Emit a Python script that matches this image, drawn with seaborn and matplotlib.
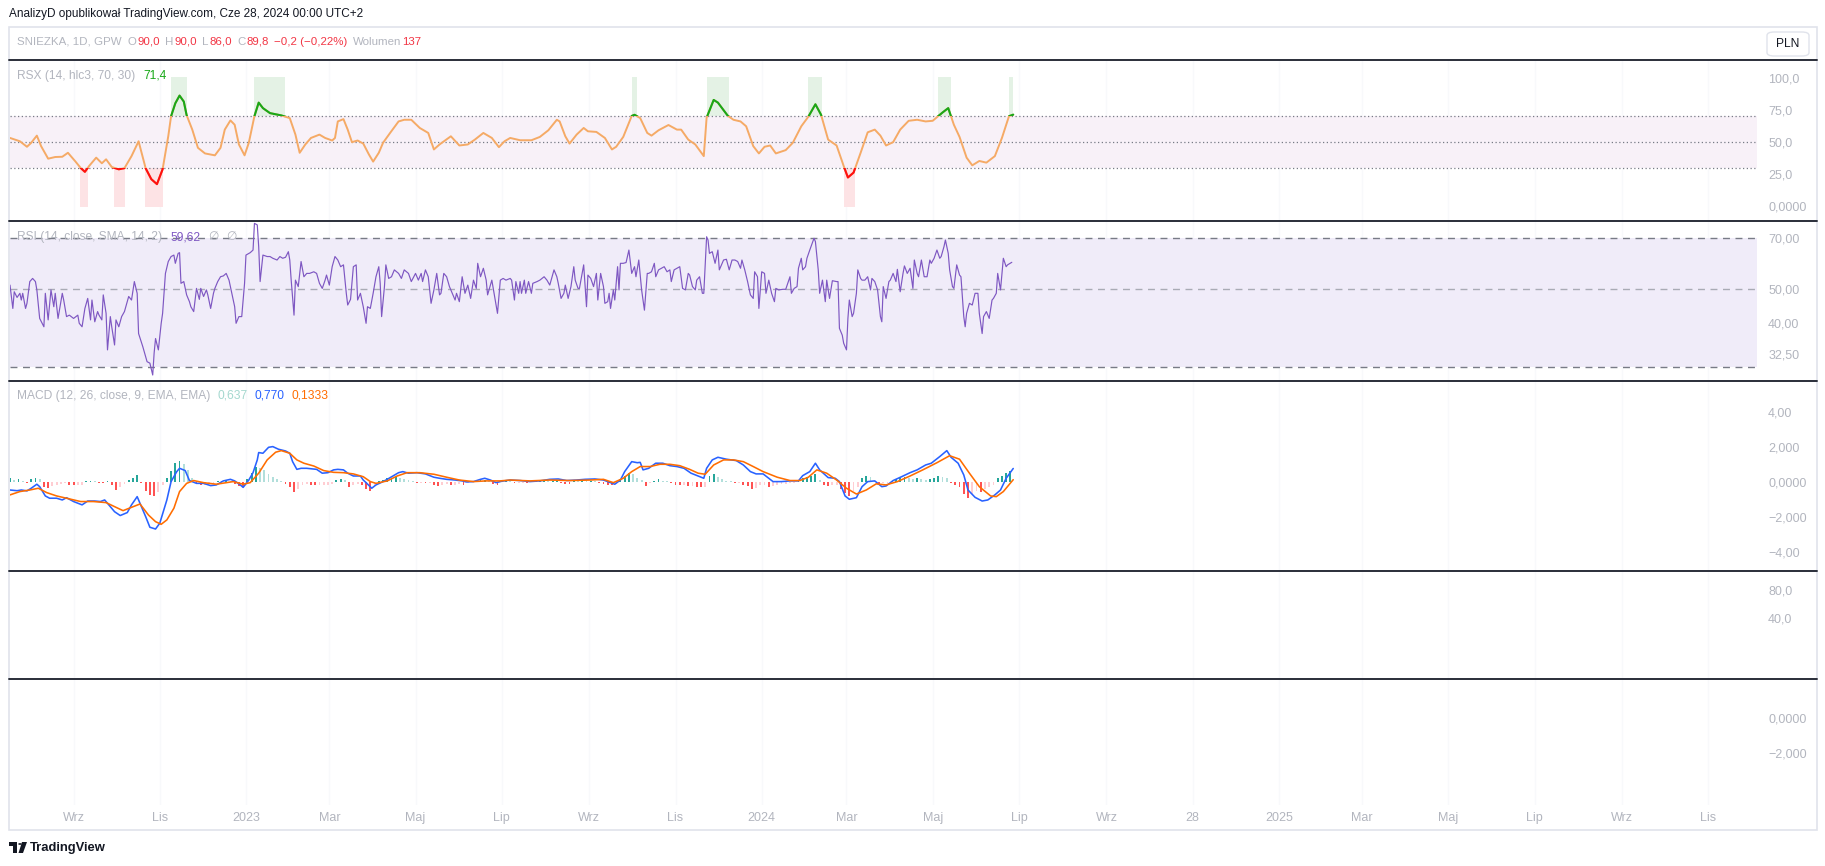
import numpy as np
import pandas as pd
import matplotlib
matplotlib.use("Agg")
import matplotlib.pyplot as plt
import seaborn as sns
from matplotlib.lines import Line2D
from matplotlib.patches import Rectangle, FancyBboxPatch, Circle, Polygon
from matplotlib.ticker import NullLocator, NullFormatter
from matplotlib import font_manager

sns.set_theme(style="white")
avail = {f.name for f in font_manager.fontManager.ttflist}
BASE = "Liberation Sans" if "Liberation Sans" in avail else "DejaVu Sans"
plt.rcParams["font.family"] = [BASE, "DejaVu Sans"]

# ---------------- data (day offsets from START) ----------------
START = pd.Timestamp("2022-07-18")

rsx_day = [0, 7, 12, 15, 19, 22, 27, 32, 37, 41, 46, 50, 53, 56, 61, 65, 68, 72, 77, 81,
           86, 91, 96, 100, 104, 108, 112, 114, 117, 120, 123, 125, 129, 133, 138, 145, 149, 152, 156, 159,
           162, 166, 169, 173, 176, 179, 184, 192, 198, 202, 205, 209, 213, 219, 223, 228, 230, 232, 236, 239,
           242, 246, 250, 254, 257, 261, 264, 269, 275, 279, 284, 290, 296, 300, 304, 312, 318, 324, 329, 335,
           341, 346, 350,
           354, 361, 369, 375, 381, 387, 389, 393, 396, 401, 406, 409, 415, 421, 426, 429, 434, 440, 442, 446,
           451, 454, 459, 466, 472, 475, 480, 485, 491, 493, 498, 501, 508, 512, 517, 521, 526, 530, 534, 538,
           542, 549, 554, 560, 565, 570, 574, 579, 585, 590, 593, 597, 602, 607, 612, 616, 620, 625, 630, 636,
           642, 648, 653, 657, 660, 664, 668, 672, 677, 681, 686, 691, 697, 702, 707, 710]
rsx_val = [53.2, 50.6, 46.3, 49.4, 55.0, 46.8, 37.0, 38.3, 38.5, 41.6, 35.2, 29.8, 26.7, 31.3, 37.8, 33.4, 36.5, 30.5, 28.7, 29.6,
           39.0, 50.6, 29.5, 21.0, 17.1, 28.7, 54.5, 70.2, 80.3, 86.3, 81.6, 71.0, 59.7, 45.5, 41.1, 39.6, 45.5, 59.7, 66.9, 63.5,
           48.1, 39.6, 49.4, 70.3, 80.8, 76.5, 72.6, 70.8, 68.7, 55.8, 41.6, 48.1, 53.2, 55.8, 53.2, 51.2, 53.2, 66.1, 67.9, 59.7,
           49.9, 51.2, 48.8, 40.3, 34.7, 41.6, 49.4, 57.1, 66.1, 67.4, 67.4, 61.0, 57.1, 44.2, 48.1, 54.5, 47.3, 48.1, 51.9, 57.1,
           53.2, 46.0, 50.6,
           53.2, 51.4, 51.4, 54.0, 59.2, 67.4, 66.1, 54.5, 48.8, 55.8, 61.0, 58.4, 57.9, 53.2, 44.2, 46.3, 54.0, 70.4, 71.3, 68.7,
           57.1, 55.0, 59.2, 63.3, 59.7, 59.7, 51.9, 48.1, 39.0, 69.0, 82.9, 80.8, 70.5, 67.4, 66.1, 62.3, 46.8, 41.1, 46.3, 47.3,
           41.1, 43.7, 49.4, 62.3, 69.8, 79.5, 71.3, 51.9, 47.3, 31.3, 22.3, 26.1, 41.6, 57.6, 59.7, 55.0, 47.3, 49.9, 59.7, 66.6,
           67.4, 66.1, 66.6, 70.3, 73.1, 76.5, 63.5, 54.0, 37.8, 31.8, 35.2, 33.9, 39.0, 53.2, 70.2, 71.4]

rsi_day = [0, 2, 3, 5, 7, 8, 9, 11, 12, 14,
           16, 18, 19, 21, 24, 25, 27, 29, 31, 32,
           34, 37, 38, 40, 42, 45, 48, 49, 51, 53,
           55, 57, 58, 60, 62, 63, 65, 66, 68, 69,
           71, 72, 74, 75, 77, 79, 81, 84, 86, 88,
           90, 91, 94, 97, 99, 101, 102, 103, 105, 107,
           108, 110, 112, 114, 116, 117, 119, 120, 121, 123,
           125, 127, 128, 130, 132, 134, 135, 137, 139, 140,
           142, 144, 145, 147, 149, 151, 153, 155, 157, 159,
           160, 162, 164, 166, 167, 170, 172, 173, 175, 176,
           177, 179, 182, 184, 186, 189, 191, 193, 195, 197,
           198, 199, 201, 202, 204, 206, 208, 210, 212, 215,
           217, 219, 221, 223, 224, 226, 228, 230, 232, 234,
           236, 238, 239, 241, 243, 245, 246, 248, 250, 252,
           253, 255, 257, 259, 261, 262, 263, 265, 266, 268,
           270, 272, 275, 277, 279, 282, 284, 287, 289, 291,
           292, 294, 296, 298, 300, 302, 304, 305, 307, 309,
           311, 312, 315, 316, 318, 320, 322, 324, 326, 328,
           330, 331, 333, 335, 337, 338, 341, 343, 345, 347,
           349, 351,
           354, 355, 357, 358, 360, 361, 362, 364, 365, 367,
           369, 370, 373, 375, 378, 380, 382, 385, 387, 388,
           390, 392, 393, 395, 397, 399, 400, 402, 403, 406,
           408, 409, 411, 413, 415, 416, 418, 420, 421, 423,
           424, 425, 427, 428, 430, 431, 432, 434, 436, 438,
           440, 442, 443, 445, 447, 449, 451, 452, 454, 456,
           457, 459, 461, 463, 465, 467, 468, 470, 472, 474,
           476, 478, 480, 481, 483, 485, 486, 488, 490, 491,
           493, 494, 495, 497, 499, 501, 502, 505, 507, 509,
           511, 513, 515, 517, 518, 520, 522, 524, 526, 527,
           529, 530, 532, 534, 535, 537, 539, 541, 542, 544,
           547, 549, 552, 553, 555, 557, 558, 560, 561, 563,
           564, 566, 569, 570, 572, 573, 575, 577, 578, 580,
           582, 585, 586, 587, 589, 590, 592, 593, 594, 596,
           597, 599, 600, 602, 603, 605, 607, 609, 610, 612,
           614, 616, 617, 618, 620, 622, 623, 625, 627, 628,
           630, 632, 633, 635, 637, 639, 640, 642, 643, 645,
           647, 649, 651, 652, 654, 656, 658, 659, 661, 662,
           664, 665, 667, 668, 670, 672, 673, 675, 676, 677,
           679, 681, 683, 685, 686, 688, 689, 691, 693, 695,
           696, 698, 699, 701, 703, 705, 706, 709]
rsi_val = [51.3, 44.0, 49.1, 47.3, 48.6, 46.5, 48.6, 44.0, 45.5, 52.5,
           53.6, 52.5, 49.7, 41.2, 39.0, 48.6, 40.8, 49.7, 44.5, 48.6,
           41.2, 48.6, 46.5, 41.7, 42.1, 41.2, 42.1, 39.9, 39.0, 44.0,
           47.0, 40.8, 46.5, 40.3, 43.1, 42.1, 40.8, 48.1, 42.6, 33.5,
           41.7, 39.0, 34.6, 40.8, 39.0, 41.7, 43.1, 47.6, 46.5, 52.5,
           48.6, 37.3, 34.2, 31.0, 30.7, 28.4, 32.8, 36.1, 33.5, 39.9,
           42.6, 55.4, 59.9, 61.9, 62.5, 59.2, 63.2, 63.5, 51.9, 52.5,
           48.1, 46.0, 44.5, 43.1, 50.2, 46.7, 50.2, 47.6, 49.7, 48.1,
           44.0, 48.6, 50.2, 52.5, 54.2, 54.5, 55.4, 53.0, 48.6, 44.5,
           39.9, 41.7, 41.7, 51.9, 62.5, 63.5, 64.6, 77.0, 76.2, 66.1,
           52.5, 62.5, 61.9, 61.9, 61.2, 60.5, 61.9, 61.2, 61.6, 63.9,
           60.5, 53.0, 42.1, 53.0, 50.8, 59.9, 54.2, 55.4, 55.4, 56.0,
           55.4, 51.9, 50.2, 53.0, 54.8, 51.3, 57.9, 61.9, 60.5, 57.9,
           58.6, 48.6, 45.0, 46.7, 57.9, 58.6, 46.5, 48.6, 44.5, 39.9,
           44.5, 44.0, 48.6, 54.2, 57.9, 51.9, 41.7, 50.8, 58.6, 53.6,
           54.2, 56.7, 55.4, 53.6, 56.7, 55.4, 52.5, 55.4, 53.0, 55.4,
           52.5, 56.7, 54.2, 45.5, 49.7, 55.4, 48.1, 48.6, 55.4, 54.2,
           50.8, 49.7, 46.5, 48.6, 46.0, 54.2, 48.6, 51.3, 47.0, 53.0,
           50.2, 59.2, 54.2, 57.3, 53.0, 48.1, 53.0, 47.6, 42.6, 53.0,
           53.6, 53.0,
           53.6, 53.0, 46.5, 52.5, 48.6, 52.5, 48.6, 53.0, 48.6, 52.5,
           48.6, 51.9, 52.5, 53.0, 54.2, 53.0, 51.3, 56.7, 54.2, 51.9,
           47.0, 48.6, 51.3, 47.0, 50.8, 57.9, 53.0, 50.2, 50.2, 58.6,
           44.5, 54.8, 53.6, 50.8, 55.4, 46.5, 55.4, 50.8, 45.5, 46.0,
           48.6, 44.0, 49.7, 46.5, 57.9, 49.7, 59.2, 59.2, 59.5, 64.6,
           55.4, 57.9, 54.2, 60.5, 49.7, 43.5, 55.4, 55.4, 56.0, 59.2,
           54.2, 56.7, 57.3, 57.9, 56.0, 56.7, 52.5, 56.7, 57.3, 57.9,
           50.2, 49.7, 55.4, 54.8, 50.8, 49.7, 53.0, 54.2, 48.6, 48.6,
           70.5, 69.0, 63.2, 63.9, 59.2, 64.6, 56.7, 60.5, 60.8, 56.7,
           60.5, 60.5, 59.9, 57.3, 60.5, 56.7, 52.5, 48.1, 47.0, 56.0,
           54.2, 44.0, 56.0, 55.4, 48.6, 53.0, 48.6, 46.0, 50.2, 49.7,
           49.9, 49.9, 54.2, 48.6, 50.2, 50.8, 57.3, 61.2, 56.7, 57.9,
           61.2, 64.6, 69.8, 68.3, 56.7, 48.6, 53.0, 46.0, 53.0, 47.0,
           52.8, 52.5, 52.5, 38.6, 36.9, 35.0, 33.5, 41.2, 46.5, 41.7,
           42.6, 48.6, 56.7, 53.6, 53.0, 53.0, 54.2, 49.7, 53.6, 52.5,
           49.7, 41.7, 40.3, 50.8, 47.0, 52.5, 53.0, 55.4, 52.5, 56.9,
           49.1, 55.4, 58.2, 55.4, 57.3, 50.2, 60.5, 55.4, 54.2, 60.5,
           54.2, 54.2, 60.5, 59.2, 61.2, 64.6, 61.2, 61.9, 66.1, 69.0,
           63.2, 56.7, 50.8, 50.2, 58.6, 54.8, 54.2, 41.7, 39.0, 42.6,
           45.5, 45.0, 48.6, 48.6, 42.6, 37.3, 41.7, 43.1, 41.2, 46.5,
           47.0, 48.6, 55.4, 49.7, 61.2, 57.9, 58.6, 59.6]

macd_day = [0, 5, 8, 12, 15, 19, 21, 25, 28, 33, 37, 40, 45, 51, 55, 60, 64, 67, 71, 74,
            78, 83, 86, 90, 92, 96, 99, 103, 106, 111, 114, 118, 120, 124, 127, 132, 137, 142, 146, 151,
            156, 159, 163, 165, 169, 172, 175, 176, 179, 183, 186, 190, 195, 198, 200, 203, 206, 210, 217, 221,
            225, 229, 232, 236, 239, 243, 248, 250, 252, 256, 259, 263, 267, 271, 275, 278, 282, 288, 294, 300,
            304, 309, 315, 320, 323, 328, 333, 336, 340, 344, 348,
            354, 361, 368, 375, 382, 388, 394, 401, 407, 414, 420, 425, 428, 432, 435, 440, 444, 446, 448, 452,
            457, 462, 467, 472, 477, 482, 487, 491, 493, 497, 501, 507, 514, 519, 524, 528, 533, 540, 546, 552,
            558, 561, 566, 570, 573, 579, 584, 587, 591, 594, 599, 603, 607, 612, 617, 620, 625, 631, 637, 642,
            648, 652, 658, 663, 666, 671, 675, 678, 683, 688, 692, 697, 701, 705, 710]
macd_val = [-0.46, -0.50, -0.46, -0.51, -0.36, -0.13, -0.27, -0.80, -0.93, -0.93, -1.03, -0.90, -1.12, -1.31, -1.09, -1.09, -1.12, -1.03, -1.41, -1.70,
            -1.92, -1.75, -1.31, -0.84, -1.22, -1.98, -2.59, -2.69, -2.36, -1.03, 0.02, 0.59, 0.78, 0.65, 0.08, -0.08, -0.08, -0.21, -0.17, 0.06,
            0.15, 0.06, -0.17, -0.31, 0.11, 0.53, 1.26, 1.68, 1.64, 1.98, 2.02, 1.87, 1.77, 1.64, 1.16, 0.72, 0.78, 0.78, 0.72, 0.50,
            0.53, 0.69, 0.72, 0.69, 0.50, 0.34, 0.34, 0.11, -0.04, -0.36, -0.17, -0.02, 0.15, 0.34, 0.53, 0.59, 0.50, 0.53, 0.46, 0.27,
            0.21, 0.15, 0.11, 0.06, 0.00, 0.02, 0.15, 0.21, 0.11, -0.04, 0.04,
            0.11, 0.08, 0.02, 0.06, 0.15, 0.17, 0.08, 0.11, 0.15, 0.17, 0.11, -0.04, -0.13, 0.11, 0.59, 1.16, 1.10, 1.12, 0.69, 0.78,
            1.07, 1.07, 0.93, 0.88, 0.78, 0.50, 0.34, 0.21, 0.78, 1.26, 1.41, 1.30, 1.22, 0.97, 0.59, 0.46, 0.46, 0.02, 0.02, 0.06,
            0.06, 0.36, 0.59, 1.07, 0.69, 0.25, 0.21, 0.02, -0.80, -0.99, -0.90, -0.27, 0.02, 0.06, -0.27, -0.23, 0.08, 0.30, 0.53, 0.69,
            0.97, 1.07, 1.45, 1.79, 1.41, 1.07, 0.40, -0.46, -0.88, -1.09, -1.03, -0.74, -0.46, 0.21, 0.77]

signal_day = [0, 7, 14, 20, 26, 33, 40, 50, 59, 68, 75, 80, 86, 92, 98, 103, 107, 111, 116, 120,
              125, 130, 137, 146, 158, 165, 170, 176, 182, 188, 192, 198, 203, 208, 215, 222, 229, 236, 243, 250,
              255, 259, 267, 274, 281, 290, 300, 309, 318, 328, 337, 347,
              354, 368, 382, 396, 411, 420, 427, 434, 440, 446, 453, 460, 467, 474, 481, 487, 492, 498, 505, 512,
              519, 526, 533, 543, 552, 559, 565, 571, 578, 585, 592, 599, 606, 613, 620, 628, 637, 646, 656, 665,
              672, 679, 686, 694, 698, 703, 710]
signal_val = [-0.74, -0.55, -0.46, -0.36, -0.61, -0.80, -0.93, -1.12, -1.12, -1.18, -1.45, -1.64, -1.45, -1.26, -1.89, -2.27, -2.42, -2.17, -1.50, -0.55,
              -0.08, 0.08, -0.04, -0.13, 0.02, -0.13, -0.04, 0.50, 1.26, 1.70, 1.79, 1.64, 1.26, 1.07, 0.91, 0.65, 0.55, 0.53, 0.46, 0.30,
              0.02, -0.08, 0.06, 0.34, 0.53, 0.53, 0.44, 0.27, 0.11, 0.02, 0.06, 0.06,
              0.11, 0.06, 0.11, 0.08, 0.11, 0.15, -0.04, 0.21, 0.59, 0.88, 0.88, 1.01, 1.01, 0.93, 0.72, 0.50, 0.44, 0.97, 1.26, 1.26,
              1.16, 0.88, 0.59, 0.27, 0.08, 0.08, 0.27, 0.69, 0.50, 0.11, -0.36, -0.69, -0.46, -0.11, -0.17, 0.02, 0.34, 0.69, 1.10, 1.50,
              1.30, 0.50, -0.27, -0.80, -0.84, -0.55, 0.13]

HIST_STEP = 3  # one bar every 3 days
hist_val = [0.20, 0.10, 0.15, 0.05, -0.08, 0.15, 0.20, 0.18,
            -0.30, -0.36, -0.25, -0.15, -0.10, -0.08, -0.18, -0.20, -0.15, -0.15,
            0.06, 0.08, 0.05, -0.05, -0.08, 0.05,
            -0.20, -0.45, -0.30, -0.10, 0.10, 0.25, 0.40,
            -0.05, -0.50, -0.75, -0.80, -0.60, -0.20,
            0.20, 0.60, 1.10, 1.20, 1.00, 0.70, 0.25,
            -0.10, -0.20, -0.15, -0.08, -0.05, 0.05, 0.05, 0.10, 0.05,
            -0.10, -0.25, -0.30,
            0.15, 0.50, 0.85, 0.80, 0.70, 0.45, 0.30, 0.15, 0.05,
            -0.10, -0.30, -0.60, -0.40, -0.20, -0.10, -0.15, -0.20, -0.20, -0.15, -0.15, -0.10,
            0.10, 0.15, 0.10,
            -0.30, -0.15, -0.10, -0.15, -0.40, -0.50, -0.20,
            0.05, 0.10, 0.20, 0.25, 0.30, 0.20, 0.15, 0.10, 0.05,
            -0.05, -0.05, -0.08, -0.05, -0.20, -0.25, -0.15, -0.10, -0.20, -0.20, -0.10, -0.15, -0.05,
            0.03, 0.05, 0.10, 0.12, 0.08, -0.10, -0.20, 0.05, 0.10,
            0.05, -0.08, -0.08, -0.05, -0.08,
            0.03, 0.05, 0.05, 0.06, 0.04, 0.05, 0.06,
            -0.05, -0.10, -0.12,
            0.05, 0.04, 0.05, 0.04, 0.05, 0.03,
            -0.08, -0.10, -0.15, -0.20, -0.10,
            0.15, 0.35, 0.50, 0.45, 0.25, 0.10,
            -0.25, -0.05,
            0.08, 0.15, 0.08, 0.05,
            -0.05, -0.15, -0.20, -0.20, -0.25, -0.25, -0.28, -0.30, -0.30,
            0.35, 0.45, 0.30, 0.15, 0.05, 0.03,
            -0.05, -0.05, -0.15, -0.25, -0.40, -0.35, -0.20, -0.20, -0.30, -0.25, -0.15, -0.12, -0.10, -0.08, -0.05,
            0.05, 0.20, 0.30, 0.35, 0.45, 0.10,
            -0.15, -0.25, -0.20, -0.15, -0.40, -0.65, -0.80, -0.50, -0.30,
            0.20, 0.35, 0.30, 0.05,
            -0.10, -0.08, -0.05,
            0.05, 0.15, 0.20, 0.30, 0.25, 0.15, 0.20, 0.15, 0.10, 0.15, 0.25, 0.35, 0.30, 0.20,
            -0.05, -0.15, -0.30, -0.70, -0.90, -0.70, -0.50, -0.60, -0.40, -0.30, -0.15,
            0.25, 0.35, 0.50, 0.64]

tick_dates = ["2022-09-01", "2022-11-01", "2023-01-01", "2023-03-01", "2023-05-01", "2023-07-01",
              "2023-09-01", "2023-11-01", "2024-01-01", "2024-03-01", "2024-05-01", "2024-07-01",
              "2024-09-01", "2024-11-01", "2025-01-01", "2025-03-01", "2025-05-01", "2025-07-01",
              "2025-09-01", "2025-11-01"]
tick_labels = ["Wrz", "Lis", "2023", "Mar", "Maj", "Lip", "Wrz", "Lis", "2024", "Mar", "Maj", "Lip",
               "Wrz", "28", "2025", "Mar", "Maj", "Lip", "Wrz", "Lis"]

rsx_ticks = [100, 75, 50, 25, 0]
rsx_tick_labels = ["100,0", "75,0", "50,0", "25,0", "0,0000"]
rsi_ticks = [70, 50, 40, 32.5]
rsi_tick_labels = ["70,00", "50,00", "40,00", "32,50"]
macd_ticks = [4, 2, 0, -2, -4]
macd_tick_labels = ["4,00", "2,000", "0,0000", "\u22122,000", "\u22124,00"]
p5_ticks = [80, 40]
p5_tick_labels = ["80,0", "40,0"]
p6_ticks = [0, -2]
p6_tick_labels = ["0,0000", "\u22122,000"]

# ---------------- style ----------------
W, H = 1825, 866
def fpt(px):
    return px * 0.72

GRAY_TXT = "#b2b5be"
DARK = "#131722"
RED_TXT = "#f23645"
RSX_ORANGE = "#f5aa66"
RSX_GREEN = "#18a818"
RSX_RED = "#ff1010"
GREEN_SPAN = "#e4f2e5"
RED_SPAN = "#fde3e5"
RSX_BAND = "#f8f1f8"
RSI_BAND = "#f0ecf9"
RSI_LINE = "#7e57c2"
MACD_BLUE = "#2962ff"
SIG_ORANGE = "#ff6d00"
SEP = "#2a2e39"
GRID = "#f8f9fb"

fig = plt.figure(figsize=(W / 100, H / 100), dpi=100, facecolor="white")

X0, X1 = 10, 1757
PX_PER_DAY = 1.413
XMAX = (X1 - X0) / PX_PER_DAY
tick_pos = [(pd.Timestamp(d) - START).days for d in tick_dates]

def pane(y0, y1):
    ax = fig.add_axes([X0 / W, 1 - y1 / H, (X1 - X0) / W, (y1 - y0) / H])
    ax.set_facecolor("white")
    for s in ax.spines.values():
        s.set_visible(False)
    ax.set_xlim(0, XMAX)
    ax.set_xticks([])
    for p in tick_pos:
        ax.axvline(p, color=GRID, lw=1, zorder=0)
    return ax

def yticks(ax, ticks, labels):
    ax.yaxis.tick_right()
    ax.set_yticks(ticks)
    ax.set_yticklabels(labels)
    ax.yaxis.set_minor_locator(NullLocator())
    ax.yaxis.set_minor_formatter(NullFormatter())
    ax.tick_params(axis="y", length=0, pad=8, labelcolor=GRAY_TXT, labelsize=fpt(12.5))

# ---------------- RSX pane ----------------
ax_rsx = pane(60, 221)
ax_rsx.set_ylim(-11.7, 114.1)
ax_rsx.axhspan(30, 70, color=RSX_BAND, lw=0, zorder=0.5)
for lvl in (70, 50, 30):
    ax_rsx.axhline(lvl, color="#787b86", lw=0.9, ls=(0, (1, 2)), zorder=1)

def runs(x, y, thr, above):
    x = np.asarray(x, float); y = np.asarray(y, float)
    m = y > thr if above else y < thr
    out = []
    start = None
    for i in range(len(x)):
        if m[i] and start is None:
            start = x[0] if i == 0 else x[i-1] + (thr - y[i-1]) * (x[i] - x[i-1]) / (y[i] - y[i-1])
        if (not m[i]) and start is not None:
            end = x[i-1] + (thr - y[i-1]) * (x[i] - x[i-1]) / (y[i] - y[i-1])
            out.append((start, end)); start = None
    if start is not None:
        out.append((start, x[-1]))
    return out

for a, b in runs(rsx_day, rsx_val, 70, True):
    ax_rsx.fill_between([a, b], 70, 100.5, color=GREEN_SPAN, lw=0, zorder=0.6)
for a, b in runs(rsx_day, rsx_val, 30, False):
    ax_rsx.fill_between([a, b], -0.5, 30, color=RED_SPAN, lw=0, zorder=0.6)

sns.lineplot(x=rsx_day, y=rsx_val, ax=ax_rsx, color=RSX_ORANGE, lw=1.4, legend=False, zorder=3)
lg, = ax_rsx.plot(rsx_day, rsx_val, color=RSX_GREEN, lw=1.5, zorder=4)
lg.set_clip_path(Rectangle((-10, 70), XMAX + 20, 200, transform=ax_rsx.transData))
lr, = ax_rsx.plot(rsx_day, rsx_val, color=RSX_RED, lw=1.5, zorder=4)
lr.set_clip_path(Rectangle((-10, -100), XMAX + 20, 130, transform=ax_rsx.transData))
yticks(ax_rsx, rsx_ticks, rsx_tick_labels)

# ---------------- RSI pane ----------------
ax_rsi = pane(221, 381)
ax_rsi.set_yscale("log")
ax_rsi.set_ylim(27.3, 78.2)
ax_rsi.axhspan(30, 70, color=RSI_BAND, lw=0, zorder=0.5)
ax_rsi.axhline(70, color="#787b86", lw=1, ls=(0, (5, 4)), zorder=1)
ax_rsi.axhline(30, color="#787b86", lw=1, ls=(0, (5, 4)), zorder=1)
ax_rsi.axhline(50, color="#a9abb5", lw=1, ls=(0, (5, 4)), zorder=1)
sns.lineplot(x=rsi_day, y=rsi_val, ax=ax_rsi, color=RSI_LINE, lw=0.85, legend=False, zorder=3)
yticks(ax_rsi, rsi_ticks, rsi_tick_labels)

# ---------------- MACD pane ----------------
ax_macd = pane(381, 571)
ax_macd.set_ylim(-5.09, 5.77)
hv = np.asarray(hist_val)
hx = np.arange(len(hv)) * HIST_STEP
prev = np.r_[hv[0], hv[:-1]]
hcol = np.where(hv >= 0, np.where(hv >= prev, "#26a69a", "#b2dfdb"),
                np.where(hv < prev, "#ff5252", "#ffcdd2"))
ax_macd.bar(hx, hv, width=1.3, color=hcol, lw=0, zorder=2)
sns.lineplot(x=macd_day, y=macd_val, ax=ax_macd, color=MACD_BLUE, lw=1.15, legend=False, zorder=3)
sns.lineplot(x=signal_day, y=signal_val, ax=ax_macd, color=SIG_ORANGE, lw=1.15, legend=False, zorder=4)
yticks(ax_macd, macd_ticks, macd_tick_labels)

# ---------------- empty panes ----------------
ax_p5 = pane(571, 679)
ax_p5.set_ylim(-47.1, 107.1)
yticks(ax_p5, p5_ticks, p5_tick_labels)

ax_p6 = pane(679, 805)
ax_p6.set_ylim(-4.97, 2.23)
yticks(ax_p6, p6_ticks, p6_tick_labels)
ax_p6.set_xticks(tick_pos)
ax_p6.set_xticklabels(tick_labels)
ax_p6.tick_params(axis="x", length=0, pad=5, labelcolor=GRAY_TXT, labelsize=fpt(12.5))

for a in (ax_rsx, ax_rsi, ax_macd, ax_p5, ax_p6):
    a.set_xlabel(""); a.set_ylabel("")

# ---------------- frame and separators ----------------
fig.add_artist(Rectangle((9 / W, 1 - 830 / H), (1817 - 9) / W, (830 - 27) / H,
                         transform=fig.transFigure, fill=False, edgecolor="#e0e3eb", lw=1.2))
for y in (60, 221, 381, 571, 679):
    fig.add_artist(Line2D([9 / W, 1817 / W], [1 - y / H, 1 - y / H], color=SEP, lw=1.4,
                          transform=fig.transFigure))

# ---------------- texts ----------------
renderer = fig.canvas.get_renderer()

def ctext(x, y, parts, size):
    for s, c, gap in parts:
        t = fig.text(x / W, 1 - y / H, s, color=c, fontsize=fpt(size), ha="left", va="center",
                     family=[BASE, "DejaVu Sans"])
        bb = t.get_window_extent(renderer=renderer)
        x += bb.width + gap

ctext(9, 14, [("AnalizyD opublikował TradingView.com, Cze 28, 2024 00:00 UTC+2", DARK, 0)], 11.8)
ctext(17, 42, [("SNIEZKA, 1D, GPW", GRAY_TXT, 6), ("O", GRAY_TXT, 1), ("90,0", RED_TXT, 5),
               ("H", GRAY_TXT, 1), ("90,0", RED_TXT, 5), ("L", GRAY_TXT, 1), ("86,0", RED_TXT, 5),
               ("C", GRAY_TXT, 1), ("89,8", RED_TXT, 5), ("\u22120,2 (\u22120,22%)", RED_TXT, 6),
               ("Wolumen", GRAY_TXT, 1), ("137", RED_TXT, 0)], 11.5)
ctext(17, 76, [("RSX (14, hlc3, 70, 30)", GRAY_TXT, 8), ("71,4", RSX_GREEN, 0)], 12)
ctext(17, 237, [("RSI (14, close, SMA, 14, 2)", GRAY_TXT, 8), ("59,62", RSI_LINE, 8),
                ("\u2205", GRAY_TXT, 7), ("\u2205", GRAY_TXT, 0)], 12)
ctext(17, 396, [("MACD (12, 26, close, 9, EMA, EMA)", GRAY_TXT, 7), ("0,637", "#a5d8cf", 7),
                ("0,770", MACD_BLUE, 7), ("0,1333", SIG_ORANGE, 0)], 12)

# PLN box
fig.add_artist(FancyBboxPatch((1767 / W, 1 - 56 / H), 42 / W, 24 / H,
                              boxstyle="round,pad=0,rounding_size=0.004", transform=fig.transFigure,
                              facecolor="white", edgecolor="#e0e3eb", lw=1))
fig.text(1788 / W, 1 - 44 / H, "PLN", color=DARK, fontsize=fpt(12), ha="center", va="center")

# TradingView logo
fig.add_artist(Rectangle((9 / W, 1 - 846 / H), 8 / W, 4 / H, transform=fig.transFigure, color=DARK, lw=0))
fig.add_artist(Rectangle((13 / W, 1 - 853 / H), 4 / W, 11 / H, transform=fig.transFigure, color=DARK, lw=0))
fig.add_artist(Circle((20 / W, 1 - 844 / H), 1.8 / W, transform=fig.transFigure, color=DARK, lw=0))
fig.add_artist(Polygon([(22 / W, 1 - 842 / H), (27 / W, 1 - 842 / H), (23 / W, 1 - 853 / H), (18.5 / W, 1 - 853 / H)],
                       closed=True, transform=fig.transFigure, color=DARK, lw=0))
fig.text(30 / W, 1 - 848 / H, "TradingView", color=DARK, fontsize=fpt(13), ha="left", va="center",
         fontweight="bold")

fig.savefig("out.png", dpi=100, facecolor="white")
